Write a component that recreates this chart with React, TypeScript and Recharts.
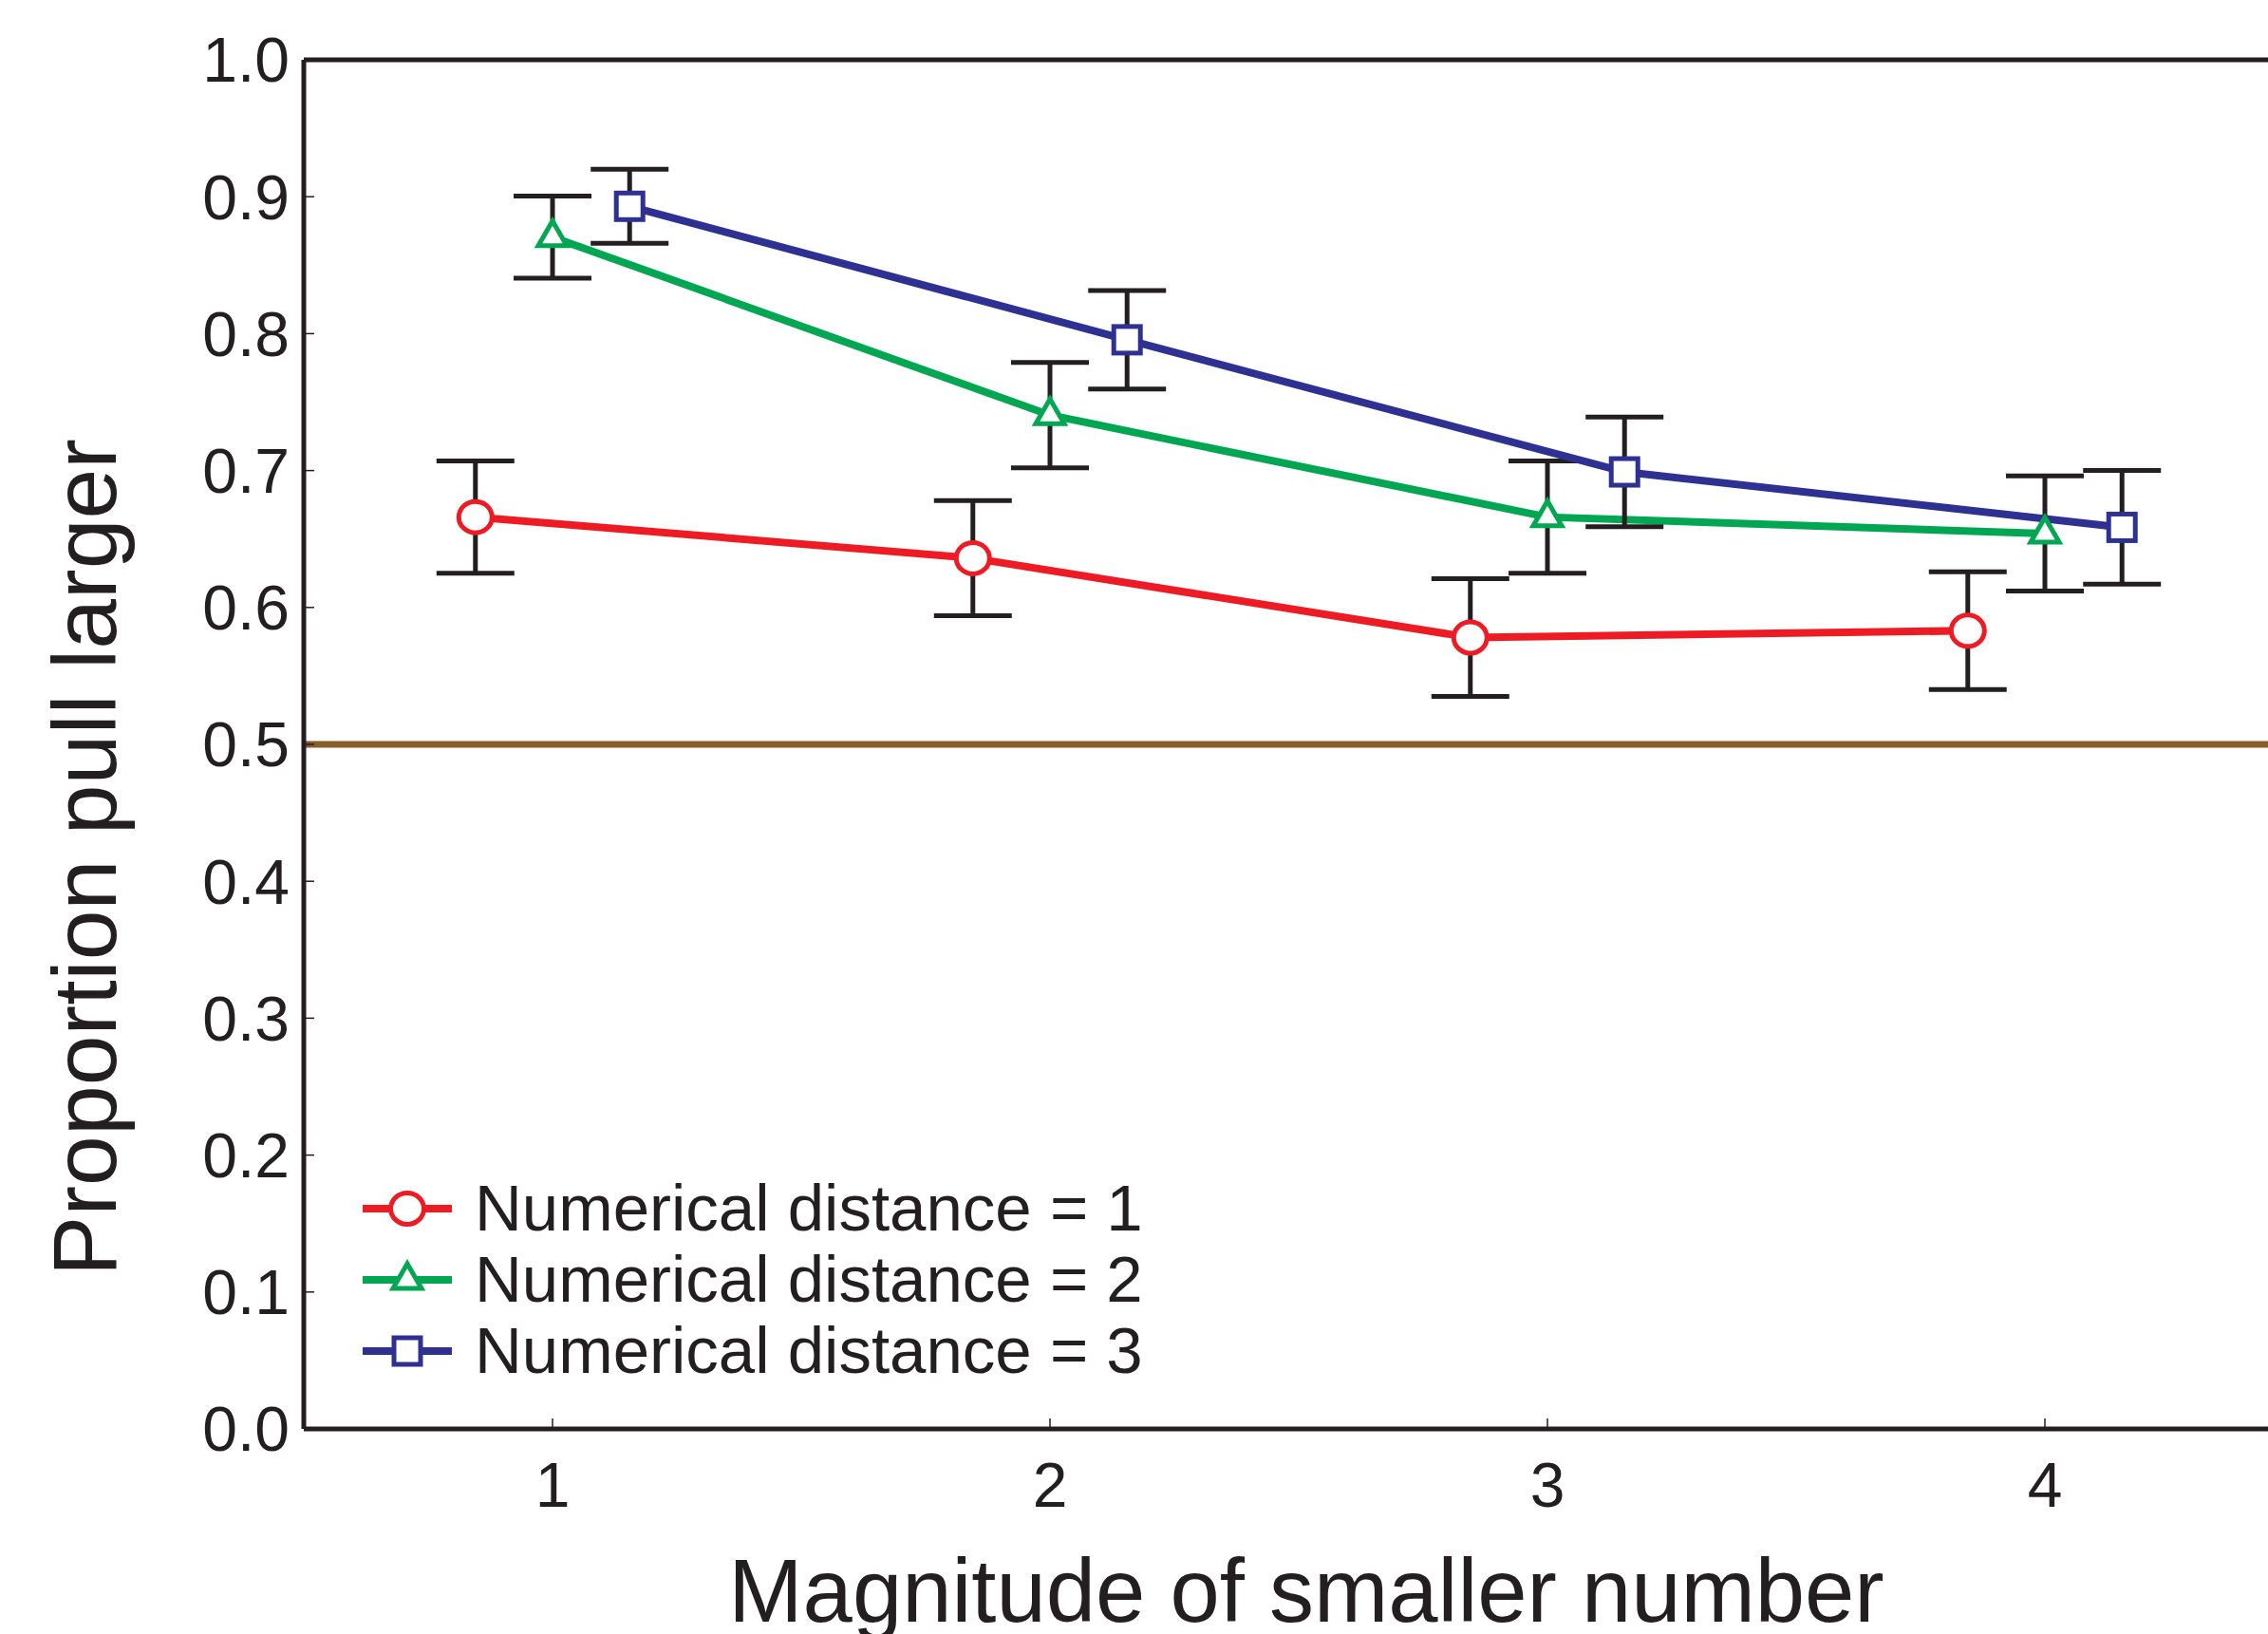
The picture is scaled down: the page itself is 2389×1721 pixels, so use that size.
import React from 'react'
import {
  LineChart,
  Line,
  XAxis,
  YAxis,
  ErrorBar,
  ReferenceLine,
  Legend,
} from 'recharts'

const magnitudes = [1, 2, 3, 4]
const xTicks = [1, 2, 3, 4]
const yTicks = [0, 0.1, 0.2, 0.3, 0.4, 0.5, 0.6, 0.7, 0.8, 0.9, 1.0]

const dist1 = [0.666, 0.636, 0.578, 0.583]
const err1 = [0.041, 0.042, 0.043, 0.043]
const dist2 = [0.8705, 0.7405, 0.666, 0.654]
const err2 = [0.03, 0.0385, 0.041, 0.042]
const dist3 = [0.893, 0.7955, 0.699, 0.6585]
const err3 = [0.027, 0.036, 0.04, 0.0415]

const chance = 0.5

const RED = '#ed1c24'
const GREEN = '#00a651'
const BLUE = '#2e3192'
const INK = '#231f20'
const BROWN = '#8c5b2a'
const FONT = '"Liberation Sans", Arial, sans-serif'

// small horizontal dodge so the error bars don't sit on top of each other
const DODGE = 0.155

const build = (vals: number[], errs: number[], shift: number) =>
  magnitudes.map((m, i) => ({ x: m + shift, p: vals[i], err: errs[i] }))

const circle = (color: string) => (props: any) => {
  const { cx, cy, index } = props
  return (
    <ellipse key={`c-${index}`} cx={cx} cy={cy} rx={17.5} ry={16.5} fill="#fff" stroke={color} strokeWidth={5} />
  )
}

const triangle = (color: string) => (props: any) => {
  const { cx, cy, index } = props
  return (
    <polygon
      key={`t-${index}`}
      points={`${cx},${cy - 17} ${cx - 15},${cy + 9} ${cx + 15},${cy + 9}`}
      fill="#fff"
      stroke={color}
      strokeWidth={5}
    />
  )
}

const square = (color: string) => (props: any) => {
  const { cx, cy, index } = props
  return (
    <rect key={`s-${index}`} x={cx - 14} y={cy - 14} width={28} height={28} fill="#fff" stroke={color} strokeWidth={5} />
  )
}

const series = [
  { name: 'Numerical distance = 1', color: RED, data: build(dist1, err1, -DODGE), marker: circle(RED) },
  { name: 'Numerical distance = 2', color: GREEN, data: build(dist2, err2, 0), marker: triangle(GREEN) },
  { name: 'Numerical distance = 3', color: BLUE, data: build(dist3, err3, DODGE), marker: square(BLUE) },
]

const LegendBox = () => (
  <div style={{ fontFamily: FONT, color: INK }}>
    {series.map((s) => (
      <div key={s.name} style={{ display: 'flex', alignItems: 'center', height: 75 }}>
        <svg width={94} height={50} style={{ marginRight: 24 }}>
          <line x1={0} y1={25} x2={94} y2={25} stroke={s.color} strokeWidth={8} />
          {s.marker({ cx: 47, cy: 25, index: 0 })}
        </svg>
        <span style={{ fontSize: 69, lineHeight: '75px', whiteSpace: 'nowrap' }}>{s.name}</span>
      </div>
    ))}
  </div>
)

export default function App() {
  return (
    <div
      style={{
        position: 'absolute',
        left: 0,
        top: 0,
        width: 2389,
        height: 1721,
        overflow: 'hidden',
        background: '#fff',
      }}
    >
      <LineChart width={2440} height={1721} margin={{ top: 63, right: 24, left: 0, bottom: 0 }}>
        <XAxis
          type="number"
          dataKey="x"
          domain={[0.5, 4.5]}
          ticks={xTicks}
          allowDataOverflow
          height={216}
          axisLine={{ stroke: INK, strokeWidth: 5 }}
          tickLine={{ stroke: INK, strokeWidth: 1.5 }}
          tickSize={-11}
          tickMargin={46}
          tick={{ fill: INK, fontSize: 66, fontFamily: FONT }}
          label={{
            content: () => (
              <text x={1376} y={1708} textAnchor="middle" fontSize={94} fontFamily={FONT} fill={INK}>
                Magnitude of smaller number
              </text>
            ),
          }}
        />
        <YAxis
          type="number"
          domain={[0, 1]}
          ticks={yTicks}
          width={320}
          axisLine={{ stroke: INK, strokeWidth: 5 }}
          tickLine={{ stroke: INK, strokeWidth: 1.5 }}
          tickSize={-11}
          tickMargin={26}
          tickFormatter={(v: number) => v.toFixed(1)}
          tick={{ fill: INK, fontSize: 66, fontFamily: FONT }}
          label={{
            content: () => (
              <text
                x={122}
                y={903}
                transform="rotate(-90 122 903)"
                textAnchor="middle"
                fontSize={95}
                fontFamily={FONT}
                fill={INK}
              >
                Proportion pull larger
              </text>
            ),
          }}
        />
        <ReferenceLine y={1} stroke={INK} strokeWidth={5} />
        <ReferenceLine y={chance} stroke={BROWN} strokeWidth={7} />
        {series.map((s) => (
          <Line
            key={s.name}
            data={s.data}
            dataKey="p"
            name={s.name}
            type="linear"
            stroke={s.color}
            strokeWidth={8}
            dot={s.marker}
            activeDot={false}
            isAnimationActive={false}
          >
            <ErrorBar dataKey="err" direction="y" width={41} stroke={INK} strokeWidth={5} />
          </Line>
        ))}
        <Legend
          layout="vertical"
          align="center"
          verticalAlign="middle"
          content={<LegendBox />}
          wrapperStyle={{ left: 382, top: 1235, width: 900 }}
        />
      </LineChart>
    </div>
  )
}
